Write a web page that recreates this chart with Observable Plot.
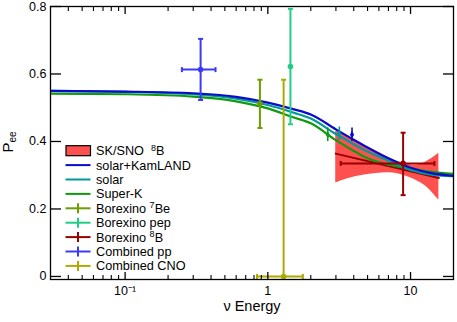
<!DOCTYPE html>
<html><head><meta charset="utf-8">
<script src="https://cdn.jsdelivr.net/npm/d3@7"></script>
<script src="https://cdn.jsdelivr.net/npm/@observablehq/plot@0.6"></script>
<style>
body{margin:0;background:#fff;}
#chart svg{display:block;}
</style></head><body><div id="chart"></div>
<script>
// ---- data ----
const energy        = [0.03, 0.1, 0.3, 0.6, 1.0, 1.5, 2.0, 3.0, 4.0, 5.0, 7.0, 10, 14, 20];
const solarKamLAND  = [0.550, 0.548, 0.543, 0.532, 0.515, 0.496, 0.480, 0.436, 0.405, 0.382, 0.350, 0.322, 0.306, 0.298];
const solarOnly     = [0.550, 0.547, 0.540, 0.527, 0.508, 0.486, 0.468, 0.422, 0.392, 0.370, 0.343, 0.316, 0.302, 0.297];
const superK        = [0.542, 0.540, 0.533, 0.519, 0.498, 0.472, 0.454, 0.404, 0.372, 0.350, 0.331, 0.320, 0.310, 0.304];

const bandE  = [2.99, 3.74, 4.64, 5.75, 7.13, 8.84, 10.9, 12.9, 15.8];
const bandHi = [0.432, 0.412, 0.392, 0.370, 0.350, 0.336, 0.330, 0.340, 0.365];
const bandLo = [0.277, 0.291, 0.300, 0.305, 0.307, 0.300, 0.285, 0.266, 0.226];
const skCenterE = [2.99, 15.8];
const skCenterP = [0.364, 0.292];

const measName = ["Borexino 7Be", "Borexino pep", "Borexino 8B", "Combined pp", "Combined CNO"];
const measE    = [0.88, 1.44, 8.87, 0.338, 1.29];
const measP    = [0.512, 0.622, 0.335, 0.613, 0.0];
const measPlo  = [0.440, 0.451, 0.241, 0.523, 0.0];
const measPhi  = [0.583, 0.793, 0.426, 0.704, 0.583];
const measElo  = [null, null, 3.24, 0.25, 0.84];
const measEhi  = [null, null, 14.7, 0.43, 1.76];
const measColor = ["#6e9d00", "#22cc88", "#990000", "#3b3bf5", "#aaaa00"];

const curveMarkE = [2.63, 3.17, 3.89];
const curveMarkP = [0.420, 0.423, 0.420];
const curveMarkColor = ["#119911", "#009999", "#0a0acc"];

const yTicks = [0, 0.2, 0.4, 0.6, 0.8];
const xMajor = [0.1, 1, 10];
const xMinor = [0.04,0.05,0.06,0.07,0.08,0.09,0.2,0.3,0.4,0.5,0.6,0.7,0.8,0.9,2,3,4,5,6,7,8,9];
const xMajorLabels = ["10\u207B\u00B9", "1", "10"];

// ---- build rows ----
const curve = vals => energy.map((E, i) => ({E, P: vals[i]}));
const bandRows = bandE.map((E, i) => ({E, lo: bandLo[i], hi: bandHi[i]}));
const skRows = skCenterE.map((E, i) => ({E, P: skCenterP[i]}));
const meas = measName.map((name, i) => ({name, E: measE[i], P: measP[i], Plo: measPlo[i], Phi: measPhi[i], Elo: measElo[i], Ehi: measEhi[i], color: measColor[i]}));
const measH = meas.filter(d => d.Elo != null);
const capsV = meas.flatMap(d => [{E: d.E, P: d.Plo, color: d.color}, {E: d.E, P: d.Phi, color: d.color}]);
const capsH = measH.flatMap(d => [{E: d.Elo, P: d.P, color: d.color}, {E: d.Ehi, P: d.P, color: d.color}]);
const marks = curveMarkE.map((E, i) => ({E, P: curveMarkP[i], color: curveMarkColor[i]}));

const hCap = {draw(ctx){ ctx.moveTo(-2.5, 0); ctx.lineTo(2.5, 0); }};
const vCap = {draw(ctx){ ctx.moveTo(0, -2.5); ctx.lineTo(0, 2.5); }};
const font = "'Liberation Sans', Arial, Helvetica, sans-serif";

const plot = Plot.plot({
  width: 457, height: 322,
  marginLeft: 50, marginRight: 4, marginTop: 6, marginBottom: 43,
  style: {fontFamily: font, fontSize: "12.5px", background: "white", color: "black"},
  x: {type: "log", domain: [0.03, 20]},
  y: {domain: [-0.009, 0.8]},
  marks: [
    Plot.areaY(bandRows, {x: "E", y1: "lo", y2: "hi", fill: "#ff5050", curve: "catmull-rom"}),
    Plot.line(skRows, {x: "E", y: "P", stroke: "#990000", strokeWidth: 2}),
    Plot.line(curve(superK), {x: "E", y: "P", stroke: "#119911", strokeWidth: 2.2, curve: "monotone-x", clip: true}),
    Plot.line(curve(solarOnly), {x: "E", y: "P", stroke: "#009999", strokeWidth: 2.2, curve: "monotone-x", clip: true}),
    Plot.line(curve(solarKamLAND), {x: "E", y: "P", stroke: "#0a0acc", strokeWidth: 2.2, curve: "monotone-x", clip: true}),
    Plot.ruleX(marks, {x: "E", y1: d => d.P - 0.02, y2: d => d.P + 0.02, stroke: "color", strokeWidth: 1.6}),
    Plot.dot(marks, {x: "E", y: "P", symbol: "diamond", r: 2.2, fill: "color"}),
    Plot.ruleX(meas, {x: "E", y1: "Plo", y2: "Phi", stroke: "color", strokeWidth: 2}),
    Plot.ruleY(measH, {y: "P", x1: "Elo", x2: "Ehi", stroke: "color", strokeWidth: 2}),
    Plot.dot(capsV, {x: "E", y: "P", symbol: hCap, stroke: "color", strokeWidth: 2, r: 3}),
    Plot.dot(capsH, {x: "E", y: "P", symbol: vCap, stroke: "color", strokeWidth: 2, r: 3}),
    Plot.dot(meas, {x: "E", y: "P", r: 2.8, fill: "color"}),
    Plot.axisY(yTicks, {anchor: "left", tickSize: -11, tickPadding: 15, strokeWidth: 1.3, tickFormat: d => d === 0 ? "0" : d.toFixed(1), label: null}),
    Plot.axisY(yTicks, {anchor: "right", tickSize: -11, strokeWidth: 1.3, tickFormat: () => "", label: null}),
    Plot.axisX(xMajor, {anchor: "bottom", tickSize: -7, tickPadding: 14, strokeWidth: 1.3, tickFormat: d => xMajorLabels[xMajor.indexOf(d)], label: null}),
    Plot.axisX(xMinor, {anchor: "bottom", tickSize: -4, strokeWidth: 1.1, tickFormat: () => "", label: null}),
    Plot.axisX(xMajor, {anchor: "top", tickSize: -7, strokeWidth: 1.3, tickFormat: () => "", label: null}),
    Plot.axisX(xMinor, {anchor: "top", tickSize: -4, strokeWidth: 1.1, tickFormat: () => "", label: null}),
    Plot.text(["\u03BD Energy"], {frameAnchor: "bottom", dy: 31.5, fontSize: 14.5}),
    Plot.frame({stroke: "black", strokeWidth: 1.3})
  ]
});
document.getElementById("chart").appendChild(plot);

const svg = d3.select(plot);
// drop the empty tick-label texts of the label-less axes
svg.selectAll("text").filter(function() { return this.textContent.trim() === ""; }).remove();

// ---- y label and legend ----
const yl = svg.append("text").attr("transform", "translate(13,142) rotate(-90)")
  .attr("text-anchor", "middle").attr("font-family", font).attr("font-size", 15).attr("fill", "black");
yl.append("tspan").text("P");
yl.append("tspan").attr("font-size", 10).attr("dy", 3).text("ee");

const legendItems = [
  {kind: "rect", color: "#ff5050", parts: [["SK/SNO  "], ["8", 1], ["B"]]},
  {kind: "line", color: "#0a0acc", parts: [["solar+KamLAND"]]},
  {kind: "line", color: "#009999", parts: [["solar"]]},
  {kind: "line", color: "#119911", parts: [["Super-K"]]},
  {kind: "err", color: "#6e9d00", parts: [["Borexino "], ["7", 1], ["Be"]]},
  {kind: "err", color: "#22cc88", parts: [["Borexino pep"]]},
  {kind: "err", color: "#990000", parts: [["Borexino "], ["8", 1], ["B"]]},
  {kind: "err", color: "#3b3bf5", parts: [["Combined pp"]]},
  {kind: "err", color: "#aaaa00", parts: [["Combined CNO"]]}
];
const lg = svg.append("g").attr("font-family", font).attr("font-size", 12.7).attr("text-anchor", "start");
legendItems.forEach((it, i) => {
  const cy = 150.7 + i * 14.4;
  if (it.kind === "rect") {
    lg.append("rect").attr("x", 66).attr("y", cy - 5).attr("width", 24.5).attr("height", 10)
      .attr("fill", it.color).attr("stroke", "black").attr("stroke-width", 1.2);
  } else {
    lg.append("line").attr("x1", 65.5).attr("x2", 90.5).attr("y1", cy).attr("y2", cy)
      .attr("stroke", it.color).attr("stroke-width", 2);
    if (it.kind === "err") {
      lg.append("line").attr("x1", 78).attr("x2", 78).attr("y1", cy - 5).attr("y2", cy + 5)
        .attr("stroke", it.color).attr("stroke-width", 2);
    }
  }
  const t = lg.append("text").attr("x", 96).attr("y", cy + 4.5).attr("fill", "black").attr("text-anchor", "start");
  let shifted = false;
  it.parts.forEach(([s, sup]) => {
    const ts = t.append("tspan").text(s);
    if (sup) { ts.attr("font-size", 9).attr("dy", -4.5); shifted = true; }
    else if (shifted) { ts.attr("dy", 4.5); shifted = false; }
  });
});
</script>
</body></html>
